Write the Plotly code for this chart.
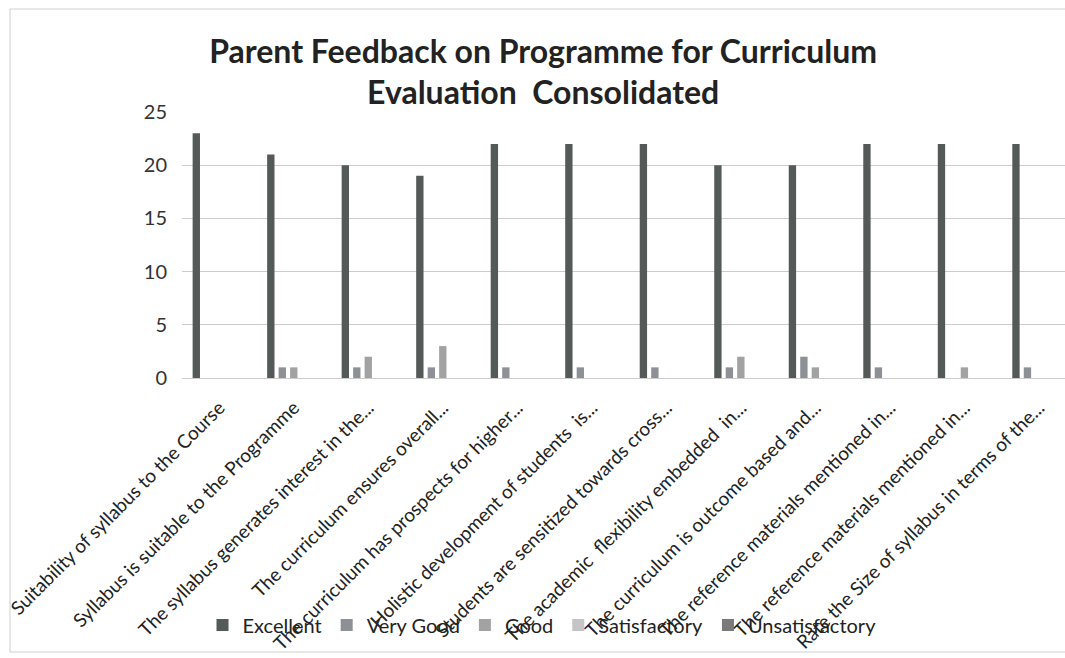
import plotly.graph_objects as go

categories = [
    "Suitability of syllabus to the Course",
    "Syllabus is suitable to the Programme",
    "The syllabus generates interest in the...",
    "The curriculum ensures overall...",
    "The curriculum has prospects for higher...",
    "Holistic development of students  is...",
    "Students are sensitized towards cross...",
    "The academic  flexibility embedded  in...",
    "The curriculum is outcome based and...",
    "The reference materials mentioned in...",
    "The reference materials mentioned in...",
    "Rate the Size of syllabus in terms of the...",
]
excellent = [23, 21, 20, 19, 22, 22, 22, 20, 20, 22, 22, 22]
very_good = [0, 1, 1, 1, 1, 1, 1, 1, 2, 1, 0, 1]
good = [0, 1, 2, 3, 0, 0, 0, 2, 1, 0, 1, 0]
satisfactory = [0] * 12
unsatisfactory = [0] * 12

series = [
    ("Excellent", excellent, "#545a58"),
    ("Very Good", very_good, "#8d9095"),
    ("Good", good, "#a2a2a2"),
    ("Satisfactory", satisfactory, "#c4c4c6"),
    ("Unsatisfactory", unsatisfactory, "#7a7a7a"),
]

x = list(range(len(categories)))
fig = go.Figure()
for name, vals, col in series:
    fig.add_trace(go.Bar(x=x, y=vals, name=name, marker_color=col,
                         marker_line_width=0))

# plot area in pixels: left 182, right 1065, top 112, bottom 378
L, R, T, B = 182, 1065, 112, 378
def px(v):
    return (v - L) / (R - L)
def py(v):
    return (B - v) / (B - T)

font = "Lato, 'Open Sans', sans-serif"
fig.update_layout(
    width=1065, height=658,
    barmode="group", bargap=0.23, bargroupgap=0.36,
    paper_bgcolor="white", plot_bgcolor="white",
    margin=dict(l=L, r=1065 - R, t=T, b=658 - B, pad=0),
    font=dict(family=font, color="#222"),
    title=dict(text="Parent Feedback on Programme for Curriculum<br>Evaluation  Consolidated",
               x=0.51, xanchor="center", y=0.905, yanchor="top",
               font=dict(size=32, family=font, color="#222", weight="bold")),
    legend=dict(orientation="h", x=px(542), xanchor="center", y=py(625), yanchor="middle",
                font=dict(size=20, color="#222"), itemwidth=30, bgcolor="rgba(0,0,0,0)"),
    xaxis=dict(tickmode="array", tickvals=x, ticktext=categories, tickangle=-45,
               tickfont=dict(size=19, color="#222"), showgrid=False, showline=False,
               ticks="", range=[-0.5, 11.35], ticklabelstandoff=14),
    yaxis=dict(range=[0, 25], dtick=5, gridcolor="#cccccc", gridwidth=1,
               zeroline=True, zerolinecolor="#cccccc", zerolinewidth=1,
               tickfont=dict(size=20, color="#333"), ticks="", showline=False,
               ticklabelstandoff=14),
    shapes=[dict(type="rect", xref="paper", yref="paper", x0=px(10), x1=px(1075),
                 y0=py(652), y1=py(9), line=dict(color="#cfcfcf", width=1))],
)
fig.write_html("out.html", config={"displayModeBar": False},
               post_script="document.body.style.margin='0';")
